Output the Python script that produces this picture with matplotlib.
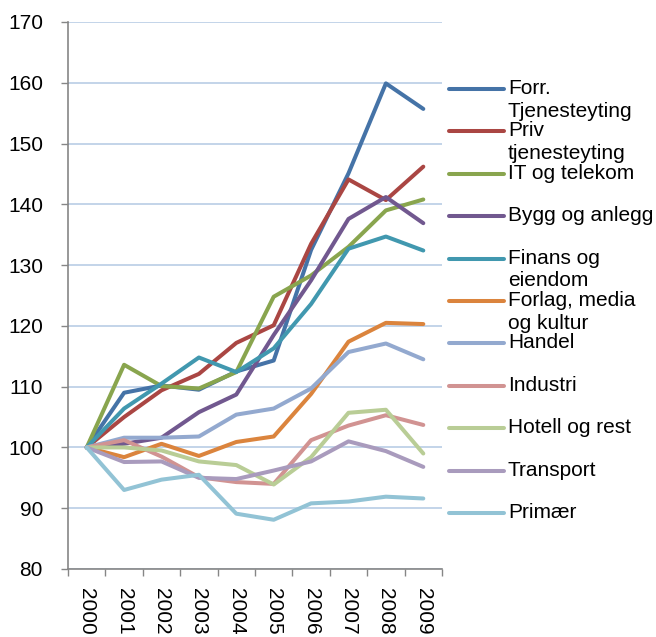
import matplotlib
matplotlib.use("Agg")
import matplotlib.pyplot as plt
from matplotlib.lines import Line2D

plt.rcParams['font.family'] = ['Liberation Sans', 'DejaVu Sans']

years = ["2000", "2001", "2002", "2003", "2004", "2005", "2006", "2007", "2008", "2009"]

forr = [100, 109.0, 110.2, 109.5, 112.5, 114.3, 132.5, 145.1, 159.9, 155.7]
priv = [100, 105.0, 109.4, 112.1, 117.2, 120.1, 133.5, 144.1, 140.7, 146.2]
it = [100, 113.6, 110.1, 109.7, 112.4, 124.8, 128.3, 133.0, 139.0, 140.8]
bygg = [100, 100.6, 101.6, 105.8, 108.7, 118.5, 127.5, 137.6, 141.2, 136.9]
finans = [100, 106.4, 110.5, 114.8, 112.4, 116.3, 123.6, 132.7, 134.7, 132.4]
forlag = [100, 98.4, 100.6, 98.6, 100.9, 101.8, 108.8, 117.4, 120.5, 120.3]
handel = [100, 101.6, 101.6, 101.8, 105.4, 106.4, 109.7, 115.7, 117.1, 114.5]
industri = [100, 101.2, 98.5, 95.1, 94.3, 94.0, 101.2, 103.6, 105.3, 103.7]
hotell = [100, 100.0, 99.5, 97.7, 97.1, 93.9, 98.4, 105.7, 106.2, 99.0]
transport = [100, 97.6, 97.7, 95.0, 94.8, 96.2, 97.7, 101.0, 99.4, 96.8]
primaer = [100, 93.0, 94.7, 95.5, 89.1, 88.1, 90.8, 91.1, 91.9, 91.6]

labels = ["Forr.\nTjenesteyting", "Priv\ntjenesteyting", "IT og telekom", "Bygg og anlegg",
          "Finans og\neiendom", "Forlag, media\nog kultur", "Handel", "Industri",
          "Hotell og rest", "Transport", "Primær"]
series = [forr, priv, it, bygg, finans, forlag, handel, industri, hotell, transport, primaer]
colors = ["#4573A7", "#AA4643", "#89A54E", "#71588F", "#4198AF", "#DB843D",
          "#93A9CF", "#D19392", "#B9CD96", "#A99BBD", "#92C3D5"]

W, H = 656, 637
fig = plt.figure(figsize=(W / 100, H / 100), dpi=100)
ax = fig.add_axes([68 / W, 1 - 569 / H, (442 - 68) / W, (569 - 22) / H])

x = list(range(len(years)))
for vals, c, lab in zip(series, colors, labels):
    ax.plot(x, vals, color=c, lw=2.9, solid_capstyle='round', solid_joinstyle='round', label=lab)

ax.set_xlim(-0.5, len(years) - 0.5)
ax.set_ylim(80, 170)
ax.set_yticks(range(80, 171, 10))
ax.set_xticks(x)
ax.set_xticklabels(years, rotation=-90, fontsize=15, va='top', ha='center')
ax.set_xticks([i - 0.5 for i in range(len(years) + 1)], minor=True)
ax.tick_params(axis='x', which='major', length=0, pad=14)
ax.tick_params(axis='x', which='minor', length=5, width=1, color='#868686', direction='out')
ax.tick_params(axis='y', length=5, width=1, color='#868686', direction='out', pad=13, labelsize=15)

ax.grid(axis='y', color='#B9CDE5', lw=1.2)
ax.set_axisbelow(True)
for s in ['top', 'right']:
    ax.spines[s].set_visible(False)
for s in ['left', 'bottom']:
    ax.spines[s].set_color('#868686')
    ax.spines[s].set_linewidth(1.2)

# Legend (manual, mimicking wrapped Excel legend)
y0 = 89
step = 42.4
for i, (c, lab) in enumerate(zip(colors, labels)):
    yy = y0 + i * step
    fy = 1 - yy / H
    fig.add_artist(Line2D([449 / W, 504 / W], [fy, fy], color=c, lw=2.9,
                          solid_capstyle='round', transform=fig.transFigure))
    fig.text(508 / W, 1 - (yy - 10) / H, lab, fontsize=15, va='top', ha='left',
             linespacing=1.25, color='#000000')

fig.savefig("out.png", dpi=100)
